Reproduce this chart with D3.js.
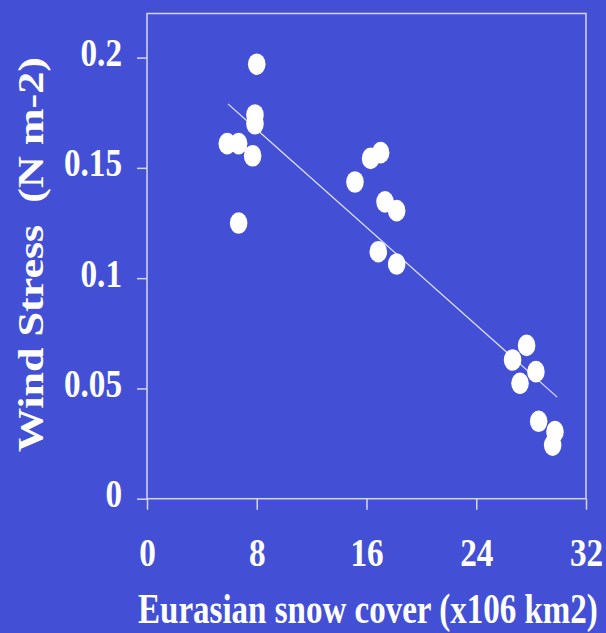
<!DOCTYPE html>
<html>
<head>
<meta charset="utf-8">
<script src="https://cdn.jsdelivr.net/npm/d3@7/dist/d3.min.js"></script>
<style>
  html, body { margin: 0; padding: 0; background: #4350d5; }
  svg { display: block; }
  .lbl { font-family: "Liberation Serif", "Times New Roman", serif; font-weight: bold; fill: #ffffff; }
</style>
</head>
<body>
<div id="chart"></div>
<script>
// data
var snowCover = [8.0, 7.87, 7.87, 5.85, 6.68, 7.70, 6.68, 16.3, 17.03, 15.16, 17.35, 18.2, 16.86, 18.2, 27.67, 26.65, 28.35, 27.19, 28.55, 29.74, 29.57];
var windStress = [0.197, 0.174, 0.170, 0.161, 0.161, 0.1555, 0.125, 0.1543, 0.1569, 0.1436, 0.1346, 0.1306, 0.112, 0.1064, 0.0695, 0.0629, 0.0576, 0.0523, 0.0351, 0.0304, 0.0243];

// fitted line as drawn in the picture
var trendSlope = -0.00554,
    trendIntercept = 0.2117,
    trendRange = [5.9, 29.9];

var xTicks = [0, 8, 16, 24, 32],
    xTickLabels = ["0", "8", "16", "24", "32"];
var yTicks = [0, 0.05, 0.1, 0.15, 0.2],
    yTickLabels = ["0", "0.05", "0.1", "0.15", "0.2"];

var xTitle = "Eurasian snow cover (x106 km2)",
    yTitle = "Wind Stress  (N m-2)";

// dimensions
var W = 606, H = 633;
var margin = {top: 13.5, right: 20, bottom: 134.3, left: 147},
    w = W - margin.left - margin.right,
    h = H - margin.top - margin.bottom;

var frameColor = "#d6d6f2",
    squeeze = 0.83;

var svg = d3.select("#chart")
    .append("svg")
    .attr("width", W)
    .attr("height", H);

svg.append("rect")
    .attr("width", W)
    .attr("height", H)
    .attr("fill", "#4350d5");

var g = svg.append("g")
    .attr("transform", "translate(" + margin.left + "," + margin.top + ")");

// scale functions
var xScale = d3.scaleLinear()
    .domain([0, 32])
    .range([0, w]);
var yScale = d3.scaleLinear()
    .domain([0, 0.22])
    .range([h, 0]);

// frame
g.append("rect")
    .attr("x", 0)
    .attr("y", 0)
    .attr("width", w)
    .attr("height", h)
    .attr("fill", "none")
    .attr("stroke", frameColor)
    .attr("stroke-width", 1.5);

// x axis
var xAxis = d3.axisBottom(xScale)
    .tickValues(xTicks)
    .tickFormat(function(d, i){ return xTickLabels[i]; })
    .tickSize(11)
    .tickSizeOuter(0);
var xa = g.append("g")
    .attr("transform", "translate(0," + h + ")")
    .call(xAxis);
xa.select(".domain").remove();
xa.selectAll(".tick line").attr("stroke", frameColor).attr("stroke-width", 1.5);
xa.selectAll(".tick text")
    .attr("class", "lbl")
    .attr("y", null)
    .attr("dy", null)
    .attr("font-size", 40)
    .attr("text-anchor", "middle")
    .attr("transform", "translate(0,67) scale(" + squeeze + ",1)");

// y axis
var yAxis = d3.axisLeft(yScale)
    .tickValues(yTicks)
    .tickFormat(function(d, i){ return yTickLabels[i]; })
    .tickSize(10)
    .tickSizeOuter(0);
var ya = g.append("g").call(yAxis);
ya.select(".domain").remove();
ya.selectAll(".tick line").attr("stroke", frameColor).attr("stroke-width", 1.5);
ya.selectAll(".tick text")
    .attr("class", "lbl")
    .attr("x", null)
    .attr("dy", null)
    .attr("font-size", 40)
    .attr("text-anchor", "end")
    .attr("transform", "translate(-25,8) scale(" + squeeze + ",1)");

// trend line
g.append("line")
    .attr("x1", xScale(trendRange[0]))
    .attr("y1", yScale(trendIntercept + trendSlope * trendRange[0]))
    .attr("x2", xScale(trendRange[1]))
    .attr("y2", yScale(trendIntercept + trendSlope * trendRange[1]))
    .attr("stroke", "#e2e2f8")
    .attr("stroke-width", 1.2);

// points
var points = snowCover.map(function(d, i){ return {x: d, y: windStress[i]}; });
g.selectAll(".pt")
    .data(points)
    .enter()
    .append("ellipse")
    .attr("class", "pt")
    .attr("cx", function(d){ return xScale(d.x); })
    .attr("cy", function(d){ return yScale(d.y); })
    .attr("rx", 8.8)
    .attr("ry", 10.8)
    .attr("fill", "#ffffff");

// axis titles, squeezed to the width they take in the picture
var xt = svg.append("g")
    .attr("transform", "translate(138,623)")
    .append("text")
    .attr("class", "lbl")
    .attr("font-size", 42)
    .text(xTitle);
var xLen = xt.node().getComputedTextLength();
xt.attr("transform", "scale(" + (460 / xLen) + ",1)");

var yt = svg.append("g")
    .attr("transform", "translate(43,452) rotate(-90)")
    .append("text")
    .attr("class", "lbl")
    .attr("font-size", 43)
    .style("white-space", "pre")
    .text(yTitle);
var yLen = yt.node().getComputedTextLength();
yt.attr("transform", "scale(" + (395 / yLen) + ",0.85)");
</script>
</body>
</html>
